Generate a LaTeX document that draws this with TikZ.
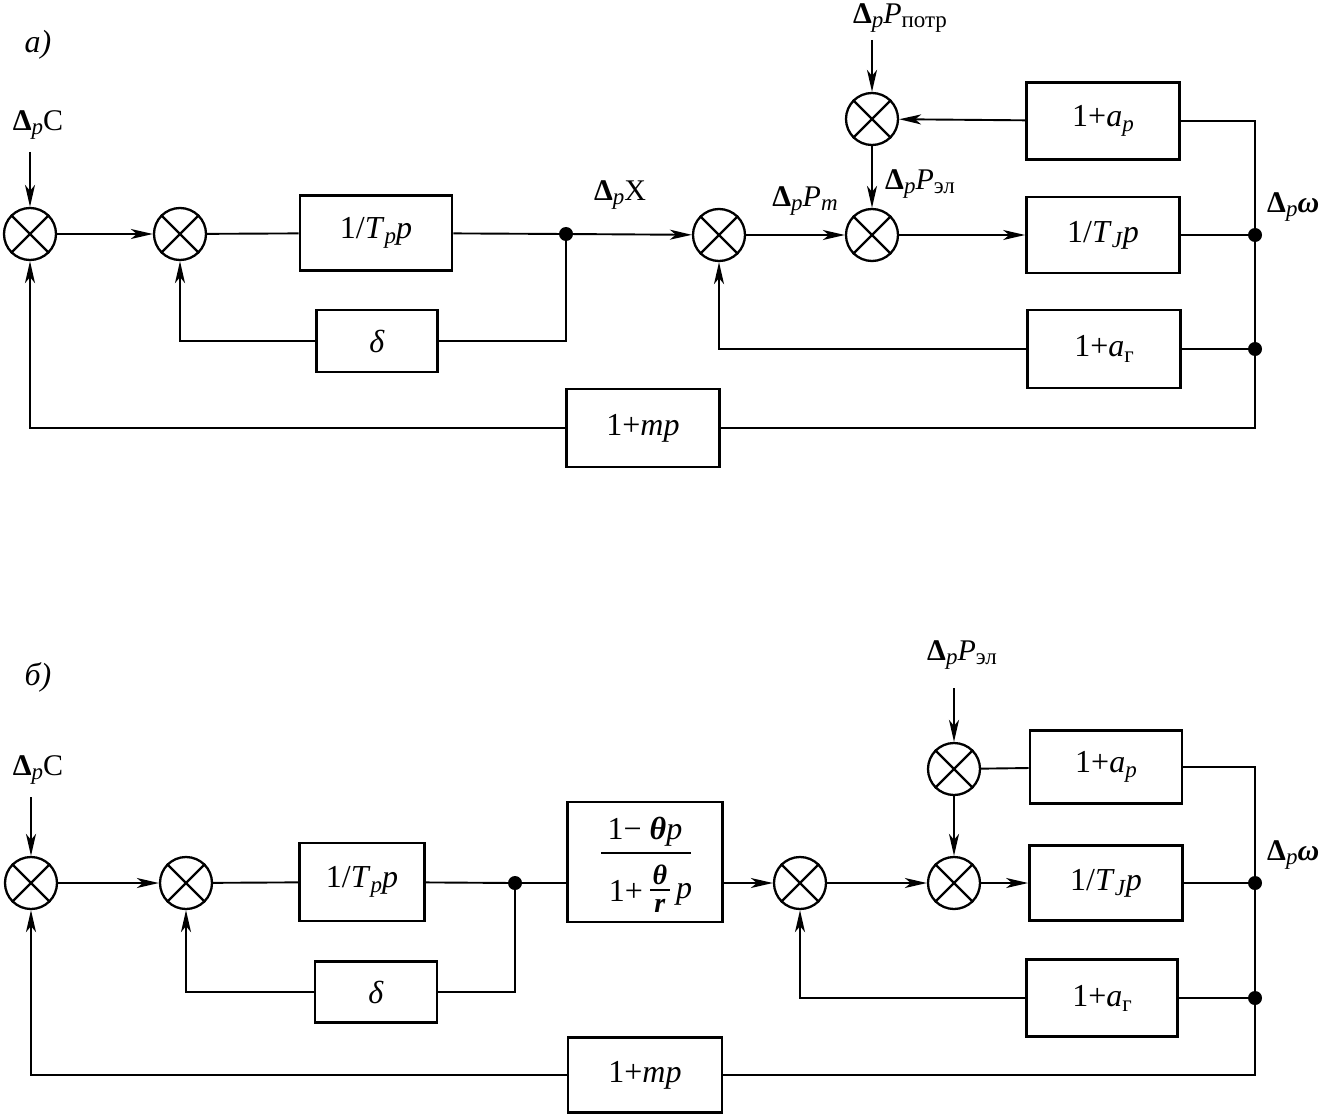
\documentclass[tikz,border=0pt]{standalone}
\usepackage{fontspec}
\setmainfont{Liberation Serif}
\usetikzlibrary{arrows.meta,calc}
\newcommand{\dlt}{\textbf{Δ}}
\newcommand{\sbs}[1]{\raisebox{-0.35ex}{\fontsize{23}{25}\selectfont #1}}
\newcommand{\vi}[1]{\textit{#1}}
\begin{document}
\begin{tikzpicture}[x=1pt,y=-1pt,
  every node/.style={font=\fontsize{32}{34}\selectfont},
  sum/.style={circle,draw,line width=2.3pt,minimum size=52pt,inner sep=0pt},
  blk/.style={draw,line width=2.7pt,inner sep=0pt},
  lbl/.style={inner sep=1pt,font=\fontsize{30}{32}\selectfont},
  ftx/.style={inner sep=0pt,font=\fontsize{32}{34}\selectfont},
  ln/.style={line width=1.9pt},
  arr/.style={line width=1.9pt,-{Stealth[length=22pt,width=10pt,inset=6pt]}},
  dot/.style={circle,fill,inner sep=0pt,minimum size=14pt}]
\useasboundingbox (0,0) rectangle (1329,1115);

% ---------------- (a) ----------------
\node[lbl,font=\fontsize{32}{34}\selectfont\itshape] (la) at (38,45) {a)};
\node[sum] (a1) at (30,234) {};
\node[sum] (a2) at (180,234) {};
\node[blk,minimum width=152pt,minimum height=75pt] (aT) at (376,233) {1/\vi{T}\sbs{\vi{p}}\vi{p}};
\node[dot] (aj) at (566,234) {};
\node[sum] (a3) at (719,235) {};
\node[sum] (a4) at (872,235) {};
\node[sum] (a5) at (872,119) {};
\node[blk,minimum width=153pt,minimum height=77pt] (aAp) at (1103,121) {1+\vi{a}\sbs{\vi{p}}};
\node[blk,minimum width=153pt,minimum height=76pt] (aTJ) at (1103,235) {1/\vi{T}\sbs{\vi{J}}\vi{p}};
\node[blk,minimum width=153pt,minimum height=78pt] (aAg) at (1104,349) {1+\vi{a}\sbs{г}};
\node[blk,minimum width=121pt,minimum height=62pt] (ad) at (377,341) {\vi{δ}};
\node[blk,minimum width=153pt,minimum height=78pt] (am) at (643,428) {1+\vi{mp}};
\coordinate (aR1) at (1255,121);
\node[dot] (aw) at (1255,235) {};
\node[dot] (ag) at (1255,349) {};
\coordinate (aR4) at (1255,428);
\coordinate (aC) at (30,152);
\coordinate (aPp) at (872,40);

\node[lbl] (laC) at (38,125) {\dlt\sbs{\vi{p}}C};
\node[lbl] (laX) at (620,195) {\dlt\sbs{\vi{p}}X};
\node[lbl] (laPm) at (805,201) {\dlt\sbs{\vi{p}}\vi{P}\sbs{\vi{m}}};
\node[lbl] (laPp) at (900,18) {\dlt\sbs{\vi{p}}\vi{P}\sbs{потр}};
\node[lbl,anchor=west] (laPe) at (884,184) {\dlt\sbs{\vi{p}}\vi{P}\sbs{эл}};
\node[lbl,anchor=west] (law) at (1266,207) {\dlt\sbs{\vi{p}}\textbf{\textit{ω}}};

\draw[arr] (aC) -- (a1);
\draw[arr] (a1) -- (a2);
\draw[ln] (a2) -- (aT);
\draw[ln] (aT) -- (aj);
\draw[arr] (aj) -- (a3);
\draw[arr] (a3) -- (a4);
\draw[arr] (a4) -- (aTJ);
\draw[ln] (aTJ) -- (aw);
\draw[arr] (aPp) -- (a5);
\draw[arr] (a5) -- (a4);
\draw[arr] (aAp) -- (a5);
\draw[ln] (aAp) -- (aR1) -- (aR4) -- (am);
\draw[ln] (aAg) -- (ag);
\draw[arr] (aAg.west) -| (a3);
\draw[ln] (aj) |- (ad);
\draw[arr] (ad.west) -| (a2);
\draw[arr] (am.west) -| (a1);

% ---------------- (b) ----------------
\node[lbl,font=\fontsize{32}{34}\selectfont\itshape] (lb) at (38,677) {б)};
\node[sum] (b1) at (31,883) {};
\node[sum] (b2) at (186,883) {};
\node[blk,minimum width=125pt,minimum height=78pt] (bT) at (362,882) {1/\vi{T}\sbs{\vi{p}}\vi{p}};
\node[dot] (bj) at (515,883) {};
\node[blk,minimum width=155pt,minimum height=120pt] (bF) at (645,862) {};
% fraction inside the block
\node[ftx] (fN) at ($(bF.center)+(0,-30)$) {1− \textbf{\textit{θ}}\vi{p}};
\draw[line width=1.6pt] ($(bF.center)+(-44,-9)$) -- ($(bF.center)+(46,-9)$);
\node[ftx,anchor=east] (fD) at ($(bF.center)+(-2,29)$) {1+};
\node[ftx,font=\fontsize{28}{30}\selectfont] (fT) at ($(bF.center)+(15,13)$) {\textbf{\textit{θ}}};
\draw[line width=1.4pt] ($(bF.center)+(5,28)$) -- ($(bF.center)+(25,28)$);
\node[ftx,font=\fontsize{28}{30}\selectfont] (fR) at ($(bF.center)+(15,44)$) {\textbf{\textit{r}}};
\node[ftx] (fP) at ($(bF.center)+(39,32)$) {\vi{p}};

\node[sum] (b3) at (800,883) {};
\node[sum] (b4) at (954,883) {};
\node[sum] (b5) at (954,769) {};
\node[blk,minimum width=152pt,minimum height=73pt] (bAp) at (1106,767) {1+\vi{a}\sbs{\vi{p}}};
\node[blk,minimum width=153pt,minimum height=75pt] (bTJ) at (1106,883) {1/\vi{T}\sbs{\vi{J}}\vi{p}};
\node[blk,minimum width=151pt,minimum height=77pt] (bAg) at (1102,998) {1+\vi{a}\sbs{г}};
\node[blk,minimum width=122pt,minimum height=61pt] (bd) at (376,992) {\vi{δ}};
\node[blk,minimum width=154pt,minimum height=75pt] (bm) at (645,1075) {1+\vi{mp}};
\coordinate (bR1) at (1255,767);
\node[dot] (bw) at (1255,883) {};
\node[dot] (bg) at (1255,998) {};
\coordinate (bR4) at (1255,1075);
\coordinate (bC) at (31,797);
\coordinate (bP) at (954,688);

\node[lbl] (lbC) at (38,770) {\dlt\sbs{\vi{p}}C};
\node[lbl] (lbPe) at (962,655) {\dlt\sbs{\vi{p}}\vi{P}\sbs{эл}};
\node[lbl,anchor=west] (lbw) at (1266,855) {\dlt\sbs{\vi{p}}\textbf{\textit{ω}}};

\draw[arr] (bC) -- (b1);
\draw[arr] (b1) -- (b2);
\draw[ln] (b2) -- (bT);
\draw[ln] (bT) -- (bj);
\draw[ln] (bj) -- (bj -| bF.west);
\draw[arr] (bj -| bF.east) -- (b3);
\draw[arr] (b3) -- (b4);
\draw[arr] (b4) -- (bTJ);
\draw[ln] (bTJ) -- (bw);
\draw[arr] (bP) -- (b5);
\draw[arr] (b5) -- (b4);
\draw[ln] (b5) -- (bAp);
\draw[ln] (bAp) -- (bR1) -- (bR4) -- (bm);
\draw[ln] (bAg) -- (bg);
\draw[arr] (bAg.west) -| (b3);
\draw[ln] (bj) |- (bd);
\draw[arr] (bd.west) -| (b2);
\draw[arr] (bm.west) -| (b1);

% crosses in summing junctions
\foreach \s in {a1,a2,a3,a4,a5,b1,b2,b3,b4,b5}{
  \draw[line width=2.3pt] (\s.north east) -- (\s.south west) (\s.north west) -- (\s.south east);
}
\end{tikzpicture}
\end{document}
